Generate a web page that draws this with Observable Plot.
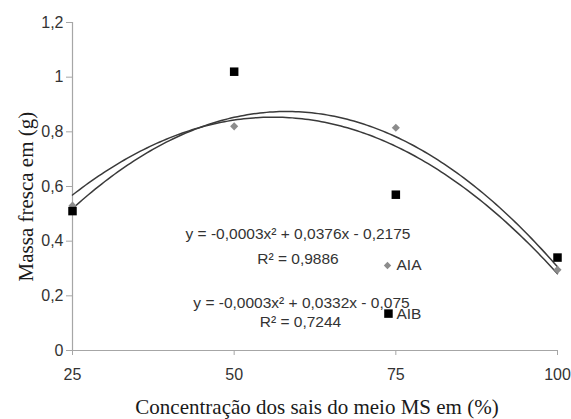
<!DOCTYPE html>
<html>
<head>
<meta charset="utf-8">
<script src="https://cdn.jsdelivr.net/npm/d3@7"></script>
<script src="https://cdn.jsdelivr.net/npm/@observablehq/plot@0.6"></script>
<style>
  html, body { margin: 0; padding: 0; background: #fff; }
  #chart svg { display: block; }
</style>
</head>
<body>
<div id="chart"></div>
<script>
// ---- data ----
const concentrations = [25, 50, 75, 100];
const aiaValues = [0.53, 0.82, 0.815, 0.295];
const aibValues = [0.51, 1.02, 0.57, 0.34];
const seriesNames = ["AIA", "AIB"];
const xTickValues = [25, 50, 75, 100];
const yTickValues = [0, 0.2, 0.4, 0.6, 0.8, 1.0, 1.2];
const yTickLabels = ["0", "0,2", "0,4", "0,6", "0,8", "1", "1,2"];
const equationAIA = ["y = -0,0003x\u00B2 + 0,0376x - 0,2175", "R\u00B2 = 0,9886"];
const equationAIB = ["y = -0,0003x\u00B2 + 0,0332x - 0,075", "R\u00B2 = 0,7244"];
const xTitle = "Concentração dos sais do meio MS em (%)";
const yTitle = "Massa fresca em (g)";

// ---- quadratic least-squares trendline computed from the points ----
function quadFit(xs, ys) {
  let s = [0,0,0,0,0], t = [0,0,0];
  xs.forEach((x, i) => {
    const y = ys[i];
    for (let k = 0; k < 5; k++) s[k] += Math.pow(x, k);
    for (let k = 0; k < 3; k++) t[k] += Math.pow(x, k) * y;
  });
  const A = [[s[0], s[1], s[2], t[0]], [s[1], s[2], s[3], t[1]], [s[2], s[3], s[4], t[2]]];
  for (let i = 0; i < 3; i++) {
    for (let j = i + 1; j < 3; j++) {
      const f = A[j][i] / A[i][i];
      for (let k = i; k < 4; k++) A[j][k] -= f * A[i][k];
    }
  }
  const c = [0,0,0];
  for (let i = 2; i >= 0; i--) {
    let v = A[i][3];
    for (let k = i + 1; k < 3; k++) v -= A[i][k] * c[k];
    c[i] = v / A[i][i];
  }
  return x => c[0] + c[1] * x + c[2] * x * x;
}
const xDomain = d3.extent(concentrations);
const sampleX = d3.range(xDomain[0], xDomain[1] + 0.001, 0.5);
const fitAIA = quadFit(concentrations, aiaValues);
const fitAIB = quadFit(concentrations, aibValues);
const curveAIA = sampleX.map(x => ({x, y: fitAIA(x)}));
const curveAIB = sampleX.map(x => ({x, y: fitAIB(x)}));

const pointsAIA = concentrations.map((x, i) => ({x, y: aiaValues[i]}));
const pointsAIB = concentrations.map((x, i) => ({x, y: aibValues[i]}));

// custom rhombus (diamond) symbol
const rhombus = {
  draw(context, size) {
    const h = Math.sqrt(size) * 0.52;
    context.moveTo(0, -h);
    context.lineTo(h, 0);
    context.lineTo(0, h);
    context.lineTo(-h, 0);
    context.closePath();
  }
};

const tickFont = "Liberation Sans, Arial, sans-serif";
const titleFont = "Liberation Serif, Times New Roman, serif";
const axisGray = "#a6a6a6";
const textColor = "#333333";

const plot = Plot.plot({
  width: 571,
  height: 419,
  marginLeft: 72,
  marginRight: 14,
  marginTop: 22,
  marginBottom: 69,
  style: {background: "#ffffff", overflow: "visible"},
  x: {domain: xDomain},
  y: {domain: [0, 1.2]},
  marks: [
    // axis lines
    Plot.ruleX([xDomain[0]], {stroke: axisGray, strokeWidth: 1.2}),
    Plot.ruleY([0], {stroke: axisGray, strokeWidth: 1.2}),
    Plot.axisX({
      ticks: xTickValues, tickSize: 5, tickPadding: 13, stroke: axisGray,
      fill: textColor, fontSize: 16, fontFamily: tickFont, label: null,
      tickFormat: d => String(d)
    }),
    Plot.axisY({
      ticks: yTickValues, tickSize: 6, tickPadding: 3, stroke: axisGray,
      fill: textColor, fontSize: 16, fontFamily: tickFont, label: null,
      tickFormat: d => yTickLabels[yTickValues.findIndex(v => Math.abs(v - d) < 1e-9)]
    }),
    // trendlines
    Plot.line(curveAIA, {x: "x", y: "y", stroke: "#3a3a3a", strokeWidth: 1.5}),
    Plot.line(curveAIB, {x: "x", y: "y", stroke: "#3a3a3a", strokeWidth: 1.5}),
    // points
    Plot.dot(pointsAIA, {x: "x", y: "y", symbol: rhombus, r: 4.4, fill: "#8c8c8c", stroke: "none"}),
    Plot.dot(pointsAIB, {x: "x", y: "y", symbol: "square", r: 4.8, fill: "#000000", stroke: "none"}),
    // equations
    Plot.text([equationAIA[0]], {x: 59.87, y: 0.4244, text: d => d, fontSize: 15.5, fontFamily: tickFont, fill: textColor, textAnchor: "middle", lineAnchor: "middle"}),
    Plot.text([equationAIA[1]], {x: 59.87, y: 0.3348, text: d => d, fontSize: 15.5, fontFamily: tickFont, fill: textColor, textAnchor: "middle", lineAnchor: "middle"}),
    Plot.text([equationAIB[0]], {x: 60.41, y: 0.172, text: d => d, fontSize: 15.5, fontFamily: tickFont, fill: textColor, textAnchor: "middle", lineAnchor: "middle"}),
    Plot.text([equationAIB[1]], {x: 60.26, y: 0.1024, text: d => d, fontSize: 15.5, fontFamily: tickFont, fill: textColor, textAnchor: "middle", lineAnchor: "middle"}),
    // legend
    Plot.dot([seriesNames[0]], {x: 73.71, y: 0.311, symbol: rhombus, r: 4.0, fill: "#8c8c8c", stroke: "none"}),
    Plot.dot([seriesNames[1]], {x: 73.86, y: 0.135, symbol: "square", r: 4.8, fill: "#000000", stroke: "none"}),
    Plot.text([seriesNames[0]], {x: 73.71, y: 0.311, dx: 9, text: d => d, fontSize: 15.5, fontFamily: tickFont, fill: textColor, textAnchor: "start", lineAnchor: "middle"}),
    Plot.text([seriesNames[1]], {x: 73.86, y: 0.135, dx: 8, text: d => d, fontSize: 15.5, fontFamily: tickFont, fill: textColor, textAnchor: "start", lineAnchor: "middle"}),
    // axis titles
    Plot.text([yTitle], {frameAnchor: "left", y: 0.563, dx: -46, rotate: -90, text: d => d, fontSize: 21, fontFamily: titleFont, fill: "#1a1a1a", textAnchor: "middle", lineAnchor: "middle"}),
    Plot.text([xTitle], {frameAnchor: "bottom", dx: 2, dy: 57, text: d => d, fontSize: 21, fontFamily: titleFont, fill: "#1a1a1a", textAnchor: "middle", lineAnchor: "middle"})
  ]
});
document.getElementById("chart").appendChild(plot);
</script>
</body>
</html>
